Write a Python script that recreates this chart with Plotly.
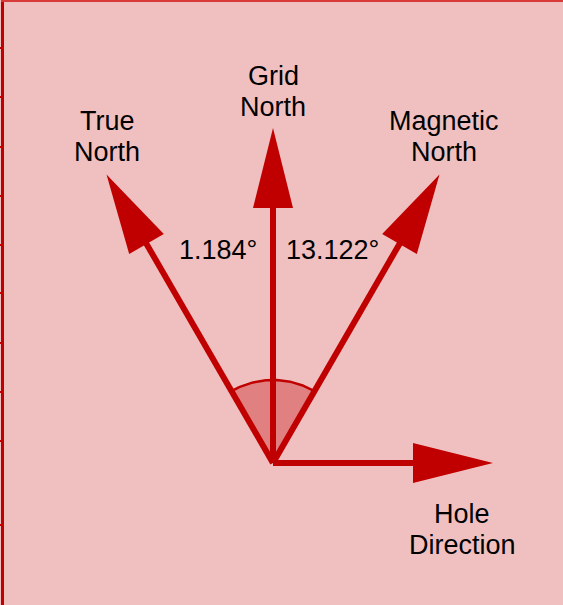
import math
import plotly.graph_objects as go

# ---- data ----
directions = ["True North", "Grid North", "Magnetic North", "Hole Direction"]
label_lines = [["True", "North"], ["Grid", "North"], ["Magnetic", "North"], ["Hole", "Direction"]]
angles_deg = [120, 90, 60, 0]          # direction of each arrow, from +x axis
lengths = [333, 335, 333, 220]          # arrow lengths
angle_labels = ["1.184°", "13.122°"]    # angle between true/grid and grid/magnetic
y_ticks = [414.7, 365.7, 316.3, 267, 218.3, 169.7, 120.3, 71, 21.7, -62.3]

# ---- style / layout constants ----
RED = "#C00000"
BG = "#F0C0C0"
WEDGE = "rgb(224,128,128)"
HEAD_LEN = 80
HEAD_HALF = 20
SHAFT_W = 6
WEDGE_R = 83
FONT = dict(family="Liberation Sans, Arial, sans-serif", size=27, color="black")
label_pos = [(-166, 342), (0, 387), (171, 342), (189, -51)]
LINE_GAP = 31

fig = go.Figure()

# wedge between true north and magnetic north
a0, a1 = angles_deg[2], angles_deg[0]
n = 60
arc_x = [WEDGE_R * math.cos(math.radians(a0 + (a1 - a0) * i / n)) for i in range(n + 1)]
arc_y = [WEDGE_R * math.sin(math.radians(a0 + (a1 - a0) * i / n)) for i in range(n + 1)]
fig.add_trace(go.Scatter(x=[0] + arc_x + [0], y=[0] + arc_y + [0], fill="toself",
                         fillcolor=WEDGE, line=dict(width=0), mode="lines",
                         hoverinfo="skip", showlegend=False))
fig.add_trace(go.Scatter(x=arc_x, y=arc_y, mode="lines", line=dict(color=RED, width=2.5),
                         hoverinfo="skip", showlegend=False))

# arrows
for name, ang, L in zip(directions, angles_deg, lengths):
    ux, uy = math.cos(math.radians(ang)), math.sin(math.radians(ang))
    px, py = -uy, ux
    bx, by = ux * (L - HEAD_LEN), uy * (L - HEAD_LEN)
    fig.add_trace(go.Scatter(x=[0, bx + ux * 2], y=[0, by + uy * 2], mode="lines",
                             line=dict(color=RED, width=SHAFT_W),
                             hoverinfo="skip", showlegend=False, name=name))
    tx, ty = ux * L, uy * L
    fig.add_trace(go.Scatter(
        x=[tx, bx + px * HEAD_HALF, bx - px * HEAD_HALF, tx],
        y=[ty, by + py * HEAD_HALF, by - py * HEAD_HALF, ty],
        fill="toself", fillcolor=RED, line=dict(width=0), mode="lines",
        hoverinfo="skip", showlegend=False, name=name))

annotations = []
for lines, (lx, ly) in zip(label_lines, label_pos):
    for i, t in enumerate(lines):
        annotations.append(dict(x=lx, y=ly - i * LINE_GAP, text=t, showarrow=False,
                                xanchor="center", yanchor="middle", font=FONT))
annotations.append(dict(x=-14, y=213.5, text=angle_labels[0], showarrow=False,
                        xanchor="right", yanchor="middle", font=FONT))
annotations.append(dict(x=11, y=213.5, text=angle_labels[1], showarrow=False,
                        xanchor="left", yanchor="middle", font=FONT))

fig.update_layout(
    width=563, height=605, autosize=False,
    margin=dict(l=4, r=0, t=2, b=0, pad=0),
    paper_bgcolor=BG, plot_bgcolor=BG,
    annotations=annotations,
    xaxis=dict(range=[-269, 290], showgrid=False, zeroline=False, side="top",
               showline=True, linecolor="#D83A3A", linewidth=2,
               showticklabels=False, ticks="", fixedrange=True),
    yaxis=dict(range=[-142, 461], showgrid=False, zeroline=False,
               showline=True, linecolor=RED, linewidth=3,
               ticks="outside", ticklen=4, tickwidth=2, tickcolor=RED,
               tickvals=y_ticks, showticklabels=False, fixedrange=True),
)

fig.write_html(
    "out.html",
    config={"displayModeBar": False},
    post_script="document.body.style.margin='0';document.body.style.overflow='hidden';"
                "document.documentElement.style.overflow='hidden';",
)
